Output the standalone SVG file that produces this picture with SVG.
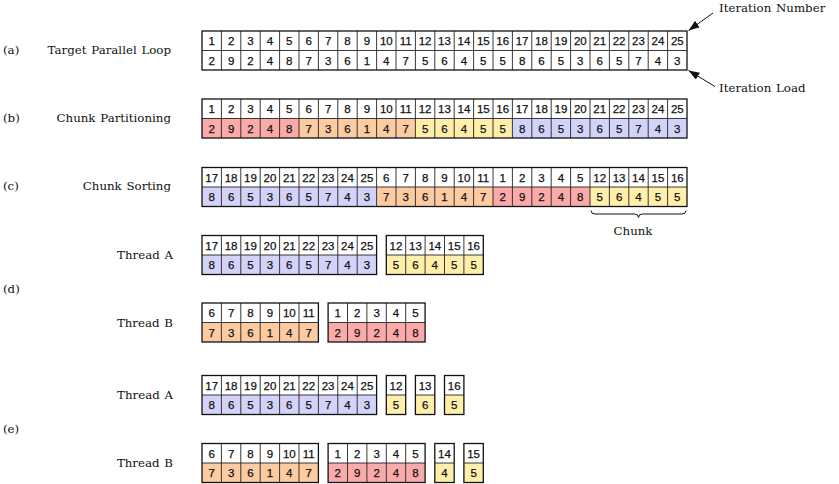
<svg xmlns="http://www.w3.org/2000/svg" width="839" height="484" viewBox="0 0 839 484">
<style>
.lbl{font-family:"DejaVu Serif","Liberation Serif",serif;font-size:11.8px;fill:#111;word-spacing:1px}
.n{font-family:"Liberation Sans",Arial,sans-serif;font-size:11.5px;fill:#111;stroke:#111;stroke-width:0.25;text-anchor:middle}
.g{fill:none;stroke:#222;stroke-width:0.9}
.o{fill:none;stroke:#111;stroke-width:1.3}
.w{fill:#fff}
.pk{fill:#FBAAAA}
.pe{fill:#FDCBA2}
.ye{fill:#FFEFAA}
.bl{fill:#D3D3FA}
</style>
<defs>
<marker id="ah" markerWidth="11" markerHeight="8" refX="11" refY="4" orient="auto" markerUnits="userSpaceOnUse"><path d="M0,0 L11,4 L0,8 z" fill="#111"/></marker>
</defs>
<rect width="839" height="484" fill="#fff"/>

<g id="labels">
<text class="lbl" x="3" y="54">(a)</text>
<text class="lbl" x="171" y="54" text-anchor="end">Target Parallel Loop</text>
<text class="lbl" x="3" y="122">(b)</text>
<text class="lbl" x="171" y="122" text-anchor="end">Chunk Partitioning</text>
<text class="lbl" x="3" y="190">(c)</text>
<text class="lbl" x="171" y="190" text-anchor="end">Chunk Sorting</text>
<text class="lbl" x="173" y="259" text-anchor="end">Thread A</text>
<text class="lbl" x="3" y="293">(d)</text>
<text class="lbl" x="173" y="327" text-anchor="end">Thread B</text>
<text class="lbl" x="173" y="399" text-anchor="end">Thread A</text>
<text class="lbl" x="3" y="433">(e)</text>
<text class="lbl" x="173" y="467" text-anchor="end">Thread B</text>
<text class="lbl" x="719" y="12">Iteration Number</text>
<text class="lbl" x="719" y="92">Iteration Load</text>
<text class="lbl" x="633" y="235" text-anchor="middle">Chunk</text>
</g>

<g id="strip-a" transform="translate(0,31)">
<rect class="w" x="202" y="0" width="485" height="39"/>
<path class="g" d="M202 19.5H687M221.4 0V39M240.8 0V39M260.2 0V39M279.6 0V39M299 0V39M318.4 0V39M337.8 0V39M357.2 0V39M376.6 0V39M396 0V39M415.4 0V39M434.8 0V39M454.2 0V39M473.6 0V39M493 0V39M512.4 0V39M531.8 0V39M551.2 0V39M570.6 0V39M590 0V39M609.4 0V39M628.8 0V39M648.2 0V39M667.6 0V39"/>
<rect class="o" x="202" y="0" width="485" height="39"/>
<text class="n" x="211.7" y="14">1</text><text class="n" x="231.1" y="14">2</text><text class="n" x="250.5" y="14">3</text><text class="n" x="269.9" y="14">4</text><text class="n" x="289.3" y="14">5</text><text class="n" x="308.7" y="14">6</text><text class="n" x="328.1" y="14">7</text><text class="n" x="347.5" y="14">8</text><text class="n" x="366.9" y="14">9</text><text class="n" x="386.3" y="14">10</text><text class="n" x="405.7" y="14">11</text><text class="n" x="425.1" y="14">12</text><text class="n" x="444.5" y="14">13</text><text class="n" x="463.9" y="14">14</text><text class="n" x="483.3" y="14">15</text><text class="n" x="502.7" y="14">16</text><text class="n" x="522.1" y="14">17</text><text class="n" x="541.5" y="14">18</text><text class="n" x="560.9" y="14">19</text><text class="n" x="580.3" y="14">20</text><text class="n" x="599.7" y="14">21</text><text class="n" x="619.1" y="14">22</text><text class="n" x="638.5" y="14">23</text><text class="n" x="657.9" y="14">24</text><text class="n" x="677.3" y="14">25</text>
<text class="n" x="211.7" y="33.5">2</text><text class="n" x="231.1" y="33.5">9</text><text class="n" x="250.5" y="33.5">2</text><text class="n" x="269.9" y="33.5">4</text><text class="n" x="289.3" y="33.5">8</text><text class="n" x="308.7" y="33.5">7</text><text class="n" x="328.1" y="33.5">3</text><text class="n" x="347.5" y="33.5">6</text><text class="n" x="366.9" y="33.5">1</text><text class="n" x="386.3" y="33.5">4</text><text class="n" x="405.7" y="33.5">7</text><text class="n" x="425.1" y="33.5">5</text><text class="n" x="444.5" y="33.5">6</text><text class="n" x="463.9" y="33.5">4</text><text class="n" x="483.3" y="33.5">5</text><text class="n" x="502.7" y="33.5">5</text><text class="n" x="522.1" y="33.5">8</text><text class="n" x="541.5" y="33.5">6</text><text class="n" x="560.9" y="33.5">5</text><text class="n" x="580.3" y="33.5">3</text><text class="n" x="599.7" y="33.5">6</text><text class="n" x="619.1" y="33.5">5</text><text class="n" x="638.5" y="33.5">7</text><text class="n" x="657.9" y="33.5">4</text><text class="n" x="677.3" y="33.5">3</text>
</g>

<g id="strip-b" transform="translate(0,99)">
<rect class="w" x="202" y="0" width="485" height="19.5"/>
<rect class="pk" x="202" y="19.5" width="97" height="19.5"/>
<rect class="pe" x="299" y="19.5" width="116.4" height="19.5"/>
<rect class="ye" x="415.4" y="19.5" width="97" height="19.5"/>
<rect class="bl" x="512.4" y="19.5" width="174.6" height="19.5"/>
<path class="g" d="M202 19.5H687M221.4 0V39M240.8 0V39M260.2 0V39M279.6 0V39M299 0V39M318.4 0V39M337.8 0V39M357.2 0V39M376.6 0V39M396 0V39M415.4 0V39M434.8 0V39M454.2 0V39M473.6 0V39M493 0V39M512.4 0V39M531.8 0V39M551.2 0V39M570.6 0V39M590 0V39M609.4 0V39M628.8 0V39M648.2 0V39M667.6 0V39"/>
<rect class="o" x="202" y="0" width="485" height="39"/>
<text class="n" x="211.7" y="14">1</text><text class="n" x="231.1" y="14">2</text><text class="n" x="250.5" y="14">3</text><text class="n" x="269.9" y="14">4</text><text class="n" x="289.3" y="14">5</text><text class="n" x="308.7" y="14">6</text><text class="n" x="328.1" y="14">7</text><text class="n" x="347.5" y="14">8</text><text class="n" x="366.9" y="14">9</text><text class="n" x="386.3" y="14">10</text><text class="n" x="405.7" y="14">11</text><text class="n" x="425.1" y="14">12</text><text class="n" x="444.5" y="14">13</text><text class="n" x="463.9" y="14">14</text><text class="n" x="483.3" y="14">15</text><text class="n" x="502.7" y="14">16</text><text class="n" x="522.1" y="14">17</text><text class="n" x="541.5" y="14">18</text><text class="n" x="560.9" y="14">19</text><text class="n" x="580.3" y="14">20</text><text class="n" x="599.7" y="14">21</text><text class="n" x="619.1" y="14">22</text><text class="n" x="638.5" y="14">23</text><text class="n" x="657.9" y="14">24</text><text class="n" x="677.3" y="14">25</text>
<text class="n" x="211.7" y="33.5">2</text><text class="n" x="231.1" y="33.5">9</text><text class="n" x="250.5" y="33.5">2</text><text class="n" x="269.9" y="33.5">4</text><text class="n" x="289.3" y="33.5">8</text><text class="n" x="308.7" y="33.5">7</text><text class="n" x="328.1" y="33.5">3</text><text class="n" x="347.5" y="33.5">6</text><text class="n" x="366.9" y="33.5">1</text><text class="n" x="386.3" y="33.5">4</text><text class="n" x="405.7" y="33.5">7</text><text class="n" x="425.1" y="33.5">5</text><text class="n" x="444.5" y="33.5">6</text><text class="n" x="463.9" y="33.5">4</text><text class="n" x="483.3" y="33.5">5</text><text class="n" x="502.7" y="33.5">5</text><text class="n" x="522.1" y="33.5">8</text><text class="n" x="541.5" y="33.5">6</text><text class="n" x="560.9" y="33.5">5</text><text class="n" x="580.3" y="33.5">3</text><text class="n" x="599.7" y="33.5">6</text><text class="n" x="619.1" y="33.5">5</text><text class="n" x="638.5" y="33.5">7</text><text class="n" x="657.9" y="33.5">4</text><text class="n" x="677.3" y="33.5">3</text>
</g>

<g id="strip-c" transform="translate(0,167.5)">
<rect class="w" x="202" y="0" width="485" height="19.5"/>
<rect class="bl" x="202" y="19.5" width="174.6" height="19.5"/>
<rect class="pe" x="376.6" y="19.5" width="116.4" height="19.5"/>
<rect class="pk" x="493" y="19.5" width="97" height="19.5"/>
<rect class="ye" x="590" y="19.5" width="97" height="19.5"/>
<path class="g" d="M202 19.5H687M221.4 0V39M240.8 0V39M260.2 0V39M279.6 0V39M299 0V39M318.4 0V39M337.8 0V39M357.2 0V39M376.6 0V39M396 0V39M415.4 0V39M434.8 0V39M454.2 0V39M473.6 0V39M493 0V39M512.4 0V39M531.8 0V39M551.2 0V39M570.6 0V39M590 0V39M609.4 0V39M628.8 0V39M648.2 0V39M667.6 0V39"/>
<rect class="o" x="202" y="0" width="485" height="39"/>
<text class="n" x="211.7" y="14">17</text><text class="n" x="231.1" y="14">18</text><text class="n" x="250.5" y="14">19</text><text class="n" x="269.9" y="14">20</text><text class="n" x="289.3" y="14">21</text><text class="n" x="308.7" y="14">22</text><text class="n" x="328.1" y="14">23</text><text class="n" x="347.5" y="14">24</text><text class="n" x="366.9" y="14">25</text><text class="n" x="386.3" y="14">6</text><text class="n" x="405.7" y="14">7</text><text class="n" x="425.1" y="14">8</text><text class="n" x="444.5" y="14">9</text><text class="n" x="463.9" y="14">10</text><text class="n" x="483.3" y="14">11</text><text class="n" x="502.7" y="14">1</text><text class="n" x="522.1" y="14">2</text><text class="n" x="541.5" y="14">3</text><text class="n" x="560.9" y="14">4</text><text class="n" x="580.3" y="14">5</text><text class="n" x="599.7" y="14">12</text><text class="n" x="619.1" y="14">13</text><text class="n" x="638.5" y="14">14</text><text class="n" x="657.9" y="14">15</text><text class="n" x="677.3" y="14">16</text>
<text class="n" x="211.7" y="33.5">8</text><text class="n" x="231.1" y="33.5">6</text><text class="n" x="250.5" y="33.5">5</text><text class="n" x="269.9" y="33.5">3</text><text class="n" x="289.3" y="33.5">6</text><text class="n" x="308.7" y="33.5">5</text><text class="n" x="328.1" y="33.5">7</text><text class="n" x="347.5" y="33.5">4</text><text class="n" x="366.9" y="33.5">3</text><text class="n" x="386.3" y="33.5">7</text><text class="n" x="405.7" y="33.5">3</text><text class="n" x="425.1" y="33.5">6</text><text class="n" x="444.5" y="33.5">1</text><text class="n" x="463.9" y="33.5">4</text><text class="n" x="483.3" y="33.5">7</text><text class="n" x="502.7" y="33.5">2</text><text class="n" x="522.1" y="33.5">9</text><text class="n" x="541.5" y="33.5">2</text><text class="n" x="560.9" y="33.5">4</text><text class="n" x="580.3" y="33.5">8</text><text class="n" x="599.7" y="33.5">5</text><text class="n" x="619.1" y="33.5">6</text><text class="n" x="638.5" y="33.5">4</text><text class="n" x="657.9" y="33.5">5</text><text class="n" x="677.3" y="33.5">5</text>
</g>

<g id="d-threadA" transform="translate(0,235.5)">
<rect class="w" x="202" y="0" width="174.6" height="19.5"/>
<rect class="bl" x="202" y="19.5" width="174.6" height="19.5"/>
<path class="g" d="M202 19.5H376.6M221.4 0V39M240.8 0V39M260.2 0V39M279.6 0V39M299 0V39M318.4 0V39M337.8 0V39M357.2 0V39"/>
<rect class="o" x="202" y="0" width="174.6" height="39"/>
<text class="n" x="211.7" y="14">17</text><text class="n" x="231.1" y="14">18</text><text class="n" x="250.5" y="14">19</text><text class="n" x="269.9" y="14">20</text><text class="n" x="289.3" y="14">21</text><text class="n" x="308.7" y="14">22</text><text class="n" x="328.1" y="14">23</text><text class="n" x="347.5" y="14">24</text><text class="n" x="366.9" y="14">25</text>
<text class="n" x="211.7" y="33.5">8</text><text class="n" x="231.1" y="33.5">6</text><text class="n" x="250.5" y="33.5">5</text><text class="n" x="269.9" y="33.5">3</text><text class="n" x="289.3" y="33.5">6</text><text class="n" x="308.7" y="33.5">5</text><text class="n" x="328.1" y="33.5">7</text><text class="n" x="347.5" y="33.5">4</text><text class="n" x="366.9" y="33.5">3</text>
<rect class="w" x="386.3" y="0" width="97" height="19.5"/>
<rect class="ye" x="386.3" y="19.5" width="97" height="19.5"/>
<path class="g" d="M386.3 19.5H483.3M405.7 0V39M425.1 0V39M444.5 0V39M463.9 0V39"/>
<rect class="o" x="386.3" y="0" width="97" height="39"/>
<text class="n" x="396" y="14">12</text><text class="n" x="415.4" y="14">13</text><text class="n" x="434.8" y="14">14</text><text class="n" x="454.2" y="14">15</text><text class="n" x="473.6" y="14">16</text>
<text class="n" x="396" y="33.5">5</text><text class="n" x="415.4" y="33.5">6</text><text class="n" x="434.8" y="33.5">4</text><text class="n" x="454.2" y="33.5">5</text><text class="n" x="473.6" y="33.5">5</text>
</g>

<g id="d-threadB" transform="translate(0,303)">
<rect class="w" x="202" y="0" width="116.4" height="19.5"/>
<rect class="pe" x="202" y="19.5" width="116.4" height="19.5"/>
<path class="g" d="M202 19.5H318.4M221.4 0V39M240.8 0V39M260.2 0V39M279.6 0V39M299 0V39"/>
<rect class="o" x="202" y="0" width="116.4" height="39"/>
<text class="n" x="211.7" y="14">6</text><text class="n" x="231.1" y="14">7</text><text class="n" x="250.5" y="14">8</text><text class="n" x="269.9" y="14">9</text><text class="n" x="289.3" y="14">10</text><text class="n" x="308.7" y="14">11</text>
<text class="n" x="211.7" y="33.5">7</text><text class="n" x="231.1" y="33.5">3</text><text class="n" x="250.5" y="33.5">6</text><text class="n" x="269.9" y="33.5">1</text><text class="n" x="289.3" y="33.5">4</text><text class="n" x="308.7" y="33.5">7</text>
<rect class="w" x="328.1" y="0" width="97" height="19.5"/>
<rect class="pk" x="328.1" y="19.5" width="97" height="19.5"/>
<path class="g" d="M328.1 19.5H425.1M347.5 0V39M366.9 0V39M386.3 0V39M405.7 0V39"/>
<rect class="o" x="328.1" y="0" width="97" height="39"/>
<text class="n" x="337.8" y="14">1</text><text class="n" x="357.2" y="14">2</text><text class="n" x="376.6" y="14">3</text><text class="n" x="396" y="14">4</text><text class="n" x="415.4" y="14">5</text>
<text class="n" x="337.8" y="33.5">2</text><text class="n" x="357.2" y="33.5">9</text><text class="n" x="376.6" y="33.5">2</text><text class="n" x="396" y="33.5">4</text><text class="n" x="415.4" y="33.5">8</text>
</g>

<g id="e-threadA" transform="translate(0,375.5)">
<rect class="w" x="202" y="0" width="174.6" height="19.5"/>
<rect class="bl" x="202" y="19.5" width="174.6" height="19.5"/>
<path class="g" d="M202 19.5H376.6M221.4 0V39M240.8 0V39M260.2 0V39M279.6 0V39M299 0V39M318.4 0V39M337.8 0V39M357.2 0V39"/>
<rect class="o" x="202" y="0" width="174.6" height="39"/>
<text class="n" x="211.7" y="14">17</text><text class="n" x="231.1" y="14">18</text><text class="n" x="250.5" y="14">19</text><text class="n" x="269.9" y="14">20</text><text class="n" x="289.3" y="14">21</text><text class="n" x="308.7" y="14">22</text><text class="n" x="328.1" y="14">23</text><text class="n" x="347.5" y="14">24</text><text class="n" x="366.9" y="14">25</text>
<text class="n" x="211.7" y="33.5">8</text><text class="n" x="231.1" y="33.5">6</text><text class="n" x="250.5" y="33.5">5</text><text class="n" x="269.9" y="33.5">3</text><text class="n" x="289.3" y="33.5">6</text><text class="n" x="308.7" y="33.5">5</text><text class="n" x="328.1" y="33.5">7</text><text class="n" x="347.5" y="33.5">4</text><text class="n" x="366.9" y="33.5">3</text>
<rect class="w" x="386.3" y="0" width="19.4" height="19.5"/><rect class="ye" x="386.3" y="19.5" width="19.4" height="19.5"/>
<path class="g" d="M386.3 19.5H405.7"/><rect class="o" x="386.3" y="0" width="19.4" height="39"/>
<text class="n" x="396" y="14">12</text><text class="n" x="396" y="33.5">5</text>
<rect class="w" x="415.4" y="0" width="19.4" height="19.5"/><rect class="ye" x="415.4" y="19.5" width="19.4" height="19.5"/>
<path class="g" d="M415.4 19.5H434.8"/><rect class="o" x="415.4" y="0" width="19.4" height="39"/>
<text class="n" x="425.1" y="14">13</text><text class="n" x="425.1" y="33.5">6</text>
<rect class="w" x="444.5" y="0" width="19.4" height="19.5"/><rect class="ye" x="444.5" y="19.5" width="19.4" height="19.5"/>
<path class="g" d="M444.5 19.5H463.9"/><rect class="o" x="444.5" y="0" width="19.4" height="39"/>
<text class="n" x="454.2" y="14">16</text><text class="n" x="454.2" y="33.5">5</text>
</g>

<g id="e-threadB" transform="translate(0,443.5)">
<rect class="w" x="202" y="0" width="116.4" height="19.5"/>
<rect class="pe" x="202" y="19.5" width="116.4" height="19.5"/>
<path class="g" d="M202 19.5H318.4M221.4 0V39M240.8 0V39M260.2 0V39M279.6 0V39M299 0V39"/>
<rect class="o" x="202" y="0" width="116.4" height="39"/>
<text class="n" x="211.7" y="14">6</text><text class="n" x="231.1" y="14">7</text><text class="n" x="250.5" y="14">8</text><text class="n" x="269.9" y="14">9</text><text class="n" x="289.3" y="14">10</text><text class="n" x="308.7" y="14">11</text>
<text class="n" x="211.7" y="33.5">7</text><text class="n" x="231.1" y="33.5">3</text><text class="n" x="250.5" y="33.5">6</text><text class="n" x="269.9" y="33.5">1</text><text class="n" x="289.3" y="33.5">4</text><text class="n" x="308.7" y="33.5">7</text>
<rect class="w" x="328.1" y="0" width="97" height="19.5"/>
<rect class="pk" x="328.1" y="19.5" width="97" height="19.5"/>
<path class="g" d="M328.1 19.5H425.1M347.5 0V39M366.9 0V39M386.3 0V39M405.7 0V39"/>
<rect class="o" x="328.1" y="0" width="97" height="39"/>
<text class="n" x="337.8" y="14">1</text><text class="n" x="357.2" y="14">2</text><text class="n" x="376.6" y="14">3</text><text class="n" x="396" y="14">4</text><text class="n" x="415.4" y="14">5</text>
<text class="n" x="337.8" y="33.5">2</text><text class="n" x="357.2" y="33.5">9</text><text class="n" x="376.6" y="33.5">2</text><text class="n" x="396" y="33.5">4</text><text class="n" x="415.4" y="33.5">8</text>
<rect class="w" x="434.8" y="0" width="19.4" height="19.5"/><rect class="ye" x="434.8" y="19.5" width="19.4" height="19.5"/>
<path class="g" d="M434.8 19.5H454.2"/><rect class="o" x="434.8" y="0" width="19.4" height="39"/>
<text class="n" x="444.5" y="14">14</text><text class="n" x="444.5" y="33.5">4</text>
<rect class="w" x="463.9" y="0" width="19.4" height="19.5"/><rect class="ye" x="463.9" y="19.5" width="19.4" height="19.5"/>
<path class="g" d="M463.9 19.5H483.3"/><rect class="o" x="463.9" y="0" width="19.4" height="39"/>
<text class="n" x="473.6" y="14">15</text><text class="n" x="473.6" y="33.5">5</text>
</g>

<g id="connectors" fill="none" stroke="#111" stroke-width="1">
<line x1="713" y1="13" x2="688.5" y2="30.5" marker-end="url(#ah)"/>
<line x1="715" y1="86.5" x2="688.5" y2="70.5" marker-end="url(#ah)"/>
<path d="M591 210.5Q591 214 595 214L634.5 214Q638.5 214 638.5 217.5Q638.5 214 642.5 214L682 214Q686 214 686 210.5"/>
</g>
</svg>
